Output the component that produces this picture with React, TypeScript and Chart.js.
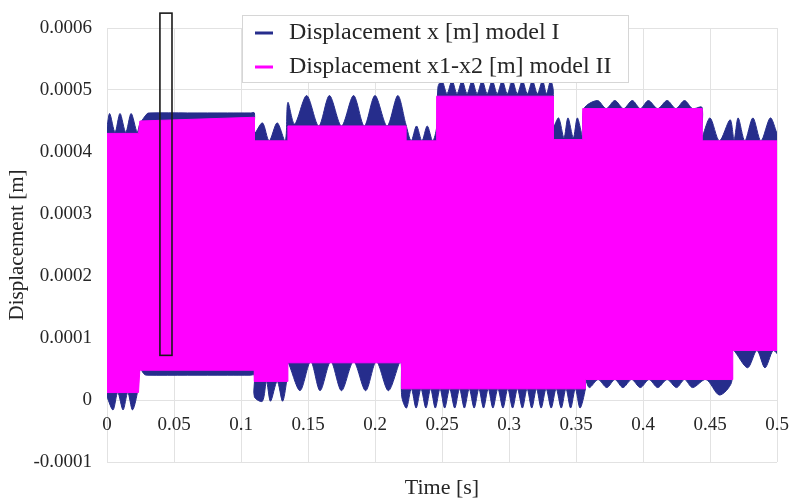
import React, { useEffect, useRef } from "react";
import { Chart, registerables } from "chart.js";

Chart.register(...registerables);

// ---------- data ----------
const xTickValues = [0, 0.05, 0.1, 0.15, 0.2, 0.25, 0.3, 0.35, 0.4, 0.45, 0.5];
const xTickLabels = ["0", "0.05", "0.1", "0.15", "0.2", "0.25", "0.3", "0.35", "0.4", "0.45", "0.5"];
const yTickValues = [-0.0001, 0, 0.0001, 0.0002, 0.0003, 0.0004, 0.0005, 0.0006];
const yTickLabels = ["-0.0001", "0", "0.0001", "0.0002", "0.0003", "0.0004", "0.0005", "0.0006"];

const seriesNames = ["Displacement x [m] model I", "Displacement x1-x2 [m] model II"];

// Upper envelope of model I (time [s], displacement [m])
const modelIUpper: [number, number][] = [
  [0, 0.00044], [0.002, 0.000462], [0.006, 0.000432], [0.0097, 0.000462], [0.014, 0.000432],
  [0.018, 0.000462], [0.0225, 0.000432], [0.0245, 0.000445], [0.03, 0.000462], [0.032, 0.000463],
  [0.06, 0.000463], [0.09, 0.000463], [0.107, 0.000463], [0.11, 0.000463],
  [0.11, 0.00043], [0.116, 0.000447], [0.121, 0.000418], [0.127, 0.000447], [0.133, 0.000418],
  [0.135, 0.00048], [0.14, 0.000445], [0.149, 0.000491], [0.158, 0.000442], [0.166, 0.000491],
  [0.175, 0.000442], [0.184, 0.000491], [0.192, 0.000442], [0.2, 0.000491], [0.209, 0.000442],
  [0.217, 0.000491], [0.223, 0.000445], [0.227, 0.000418], [0.231, 0.000442], [0.235, 0.000418],
  [0.239, 0.000442], [0.243, 0.000418], [0.246, 0.00044], [0.247, 0.000505],
  [0.25, 0.000515], [0.2537, 0.000494], [0.2575, 0.000515], [0.2612, 0.000494], [0.265, 0.000515],
  [0.2687, 0.000494], [0.2725, 0.000515], [0.2762, 0.000494], [0.28, 0.000515], [0.2837, 0.000494],
  [0.2875, 0.000515], [0.2912, 0.000494], [0.295, 0.000515], [0.2987, 0.000494], [0.3025, 0.000515],
  [0.3062, 0.000494], [0.31, 0.000515], [0.3137, 0.000494], [0.3175, 0.000515], [0.3212, 0.000494],
  [0.325, 0.000515], [0.328, 0.000494], [0.331, 0.000515], [0.333, 0.0005],
  [0.333, 0.00044], [0.337, 0.000455], [0.341, 0.000423], [0.344, 0.000455], [0.348, 0.000423],
  [0.351, 0.000455], [0.355, 0.000425], [0.356, 0.00047],
  [0.366, 0.000483], [0.3725, 0.00047], [0.379, 0.000483], [0.3855, 0.00047], [0.392, 0.000483],
  [0.398, 0.00047], [0.404, 0.000483], [0.411, 0.00047], [0.418, 0.000483], [0.4245, 0.00047],
  [0.431, 0.000483], [0.437, 0.00047], [0.444, 0.000472],
  [0.444, 0.000425], [0.45, 0.000455], [0.457, 0.000418], [0.465, 0.000452], [0.468, 0.00042],
  [0.471, 0.000455], [0.476, 0.000418], [0.482, 0.000455], [0.488, 0.000418], [0.495, 0.000455],
  [0.5, 0.00043],
];

// Lower envelope of model I
const modelILower: [number, number][] = [
  [0, 0.000005], [0.0045, -0.000016], [0.008, 0.000012], [0.012, -0.000016], [0.0155, 0.000012],
  [0.019, -0.000016], [0.0225, 0.00001], [0.0245, 0.00005], [0.028, 0.000041], [0.03, 0.00004],
  [0.06, 0.00004], [0.09, 0.00004], [0.107, 0.00004], [0.11, 0.00004],
  [0.11, 0.000005], [0.116, -0.000002], [0.119, 0.00003], [0.122, -0.000002], [0.127, 0.00003],
  [0.131, -0.000002], [0.134, 0.00003],
  [0.135, 0.00006], [0.144, 0.000015], [0.152, 0.000062], [0.159, 0.000015], [0.167, 0.000062],
  [0.175, 0.000015], [0.184, 0.000062], [0.193, 0.000015], [0.201, 0.000062], [0.21, 0.000015],
  [0.219, 0.000062],
  [0.22, 0.000005], [0.2235, -0.000013], [0.2271, 0.000018], [0.2307, -0.000013], [0.2343, 0.000018],
  [0.238, -0.000013], [0.2415, 0.000018], [0.245, -0.000013], [0.2485, 0.000018], [0.252, -0.000013],
  [0.2557, 0.000018], [0.2595, -0.000013], [0.2631, 0.000018], [0.2667, -0.000013], [0.2703, 0.000018],
  [0.274, -0.000013], [0.2775, 0.000018], [0.281, -0.000013], [0.2845, 0.000018], [0.288, -0.000013],
  [0.2917, 0.000018], [0.2955, -0.000013], [0.2991, 0.000018], [0.3027, -0.000013], [0.3063, 0.000018],
  [0.31, -0.000013], [0.3135, 0.000018], [0.317, -0.000013], [0.3205, 0.000018], [0.324, -0.000013],
  [0.3277, 0.000018], [0.3315, -0.000013], [0.3352, 0.000018], [0.339, -0.000013], [0.3425, 0.000018],
  [0.346, -0.000013], [0.3495, 0.000018], [0.353, -0.000013], [0.357, 0.000018],
  [0.357, 0.000033], [0.36, 0.00002], [0.3665, 0.000033], [0.373, 0.00002], [0.379, 0.000033],
  [0.385, 0.00002], [0.3915, 0.000033], [0.398, 0.00002], [0.4045, 0.000033], [0.411, 0.00002],
  [0.418, 0.000033], [0.425, 0.00002], [0.431, 0.000033], [0.437, 0.00002], [0.447, 0.000033],
  [0.457, 0.000008], [0.466, 0.000028],
  [0.467, 0.00008], [0.478, 0.000052], [0.485, 0.00008], [0.491, 0.000052], [0.497, 0.00008],
  [0.5, 0.000075],
];

// Upper envelope of model II
const modelIIUpper: [number, number][] = [
  [0, 0.00043], [0.0235, 0.00043], [0.0245, 0.00045], [0.11, 0.000456], [0.11, 0.000418],
  [0.135, 0.000418], [0.135, 0.000442], [0.223, 0.000442], [0.223, 0.000418], [0.246, 0.000418],
  [0.246, 0.00049], [0.333, 0.00049], [0.333, 0.00042], [0.355, 0.00042], [0.355, 0.00047],
  [0.444, 0.00047], [0.444, 0.000418], [0.5, 0.000418],
];

// Lower envelope of model II
const modelIILower: [number, number][] = [
  [0, 0.000012], [0.0235, 0.000012], [0.0245, 0.000048], [0.11, 0.000048], [0.11, 0.00003],
  [0.135, 0.00003], [0.135, 0.00006], [0.22, 0.00006], [0.22, 0.000018], [0.357, 0.000018],
  [0.357, 0.000033], [0.467, 0.000033], [0.467, 0.00008], [0.5, 0.00008],
];

// Marked window drawn on the chart (time and displacement bounds)
const markT = [0.0395, 0.0485];
const markY = [0.000072, 0.000624];

// ---------- styles ----------
const BLUE = "#262d8c";
const MAGENTA = "#ff00ff";
const TEXT = "#262626";
const GRID = "#e2e2e2";
const FONT = '"Liberation Serif", "Times New Roman", serif';

const toPts = (arr: [number, number][]) => arr.map(([x, y]) => ({ x, y }));

const markPlugin = {
  id: "markBox",
  afterDatasetsDraw(chart: any) {
    const { ctx, scales } = chart;
    const x0 = scales.x.getPixelForValue(markT[0]);
    const x1 = scales.x.getPixelForValue(markT[1]);
    const y0 = scales.y.getPixelForValue(markY[1]);
    const y1 = scales.y.getPixelForValue(markY[0]);
    ctx.save();
    ctx.strokeStyle = "#1a1a1a";
    ctx.lineWidth = 1.6;
    ctx.strokeRect(x0, y0, x1 - x0, y1 - y0);
    ctx.restore();
  },
};

const legendPlugin = {
  id: "boxLegend",
  afterDraw(chart: any) {
    const ctx = chart.ctx;
    const colors = [BLUE, MAGENTA];
    ctx.save();
    ctx.fillStyle = "#ffffff";
    ctx.strokeStyle = "#d6d6d6";
    ctx.lineWidth = 1;
    ctx.fillRect(242.5, 15.5, 386, 67);
    ctx.strokeRect(242.5, 15.5, 386, 67);
    ctx.font = `24px ${FONT}`;
    ctx.textBaseline = "middle";
    ctx.textAlign = "left";
    seriesNames.forEach((name, i) => {
      const y = 33 + i * 34;
      ctx.strokeStyle = colors[i];
      ctx.lineWidth = 3;
      ctx.beginPath();
      ctx.moveTo(255, y);
      ctx.lineTo(273, y);
      ctx.stroke();
      ctx.fillStyle = TEXT;
      ctx.fillText(name, 289, y);
    });
    ctx.restore();
  },
};

export default function App() {
  const ref = useRef<HTMLCanvasElement>(null);

  useEffect(() => {
    const canvas = ref.current;
    if (!canvas) return;
    const chart = new Chart(canvas, {
      type: "line",
      data: {
        datasets: [
          {
            label: seriesNames[1],
            data: toPts(modelIIUpper),
            borderColor: MAGENTA,
            backgroundColor: MAGENTA,
            borderWidth: 1,
            pointRadius: 0,
            fill: "+1",
            tension: 0,
            order: 0,
          },
          {
            label: seriesNames[1] + " (lower)",
            data: toPts(modelIILower),
            borderColor: MAGENTA,
            backgroundColor: MAGENTA,
            borderWidth: 1,
            pointRadius: 0,
            fill: false,
            tension: 0,
            order: 0,
          },
          {
            label: seriesNames[0],
            data: toPts(modelIUpper),
            borderColor: BLUE,
            backgroundColor: BLUE,
            borderWidth: 1,
            pointRadius: 0,
            fill: "+1",
            tension: 0.3,
            order: 1,
          },
          {
            label: seriesNames[0] + " (lower)",
            data: toPts(modelILower),
            borderColor: BLUE,
            backgroundColor: BLUE,
            borderWidth: 1,
            pointRadius: 0,
            fill: false,
            tension: 0.3,
            order: 1,
          },
        ] as any,
      },
      options: {
        responsive: false,
        animation: false,
        layout: { padding: { left: 0, right: 12, top: 28, bottom: 0 } },
        plugins: {
          legend: { display: false },
          tooltip: { enabled: false },
        },
        scales: {
          x: {
            type: "linear",
            axis: "x",
            min: 0,
            max: 0.5,
            position: { y: 0 } as any,
            afterBuildTicks: (s: any) => {
              s.ticks = xTickValues.map((v) => ({ value: v }));
            },
            afterFit: (s: any) => {
              s.paddingLeft = 0;
              s.paddingRight = 0;
            },
            ticks: {
              callback: (_v: any, i: number) => xTickLabels[i],
              font: { size: 19, family: FONT },
              color: TEXT,
              padding: 14,
              maxRotation: 0,
              autoSkip: false,
            },
            grid: { color: GRID, drawTicks: false, lineWidth: 1 },
            border: { display: false },
          },
          xTitle: {
            type: "linear",
            axis: "x",
            min: 0,
            max: 0.5,
            position: "bottom",
            ticks: { display: false },
            grid: { display: false, drawTicks: false },
            border: { display: false },
            title: {
              display: true,
              text: "Time [s]",
              font: { size: 22, family: FONT, lineHeight: 1 },
              color: TEXT,
              padding: 0,
            },
            afterFit: (s: any) => {
              s.height = 37;
              s.paddingLeft = 0;
              s.paddingRight = 0;
            },
          },
          y: {
            type: "linear",
            min: -0.0001,
            max: 0.0006,
            position: "left",
            afterBuildTicks: (s: any) => {
              s.ticks = yTickValues.map((v) => ({ value: v }));
            },
            ticks: {
              callback: (_v: any, i: number) => yTickLabels[i],
              font: { size: 19, family: FONT },
              color: TEXT,
              padding: 15,
            },
            grid: { color: GRID, drawTicks: false, lineWidth: 1 },
            border: { display: false },
            title: {
              display: true,
              text: "Displacement [m]",
              font: { size: 21, family: FONT, lineHeight: 1.2 },
              color: TEXT,
              padding: { top: 5, bottom: 0 },
            },
            afterFit: (s: any) => {
              s.width = 107;
            },
          },
        } as any,
      },
      plugins: [markPlugin, legendPlugin],
    });
    return () => chart.destroy();
  }, []);

  return (
    <div style={{ position: "fixed", left: 0, top: 0, width: 789, height: 499, background: "#fff" }}>
      <canvas ref={ref} width={789} height={499} style={{ display: "block" }} />
    </div>
  );
}
